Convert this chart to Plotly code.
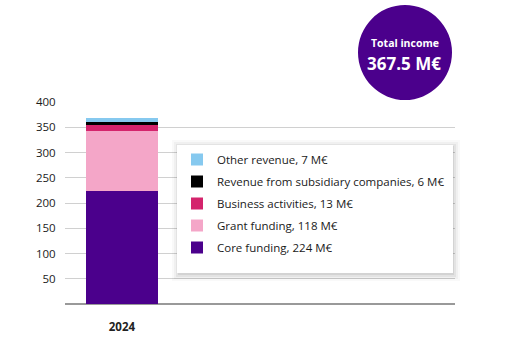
import plotly.graph_objects as go

years = ["2024"]
series_names = ["Core funding", "Grant funding", "Business activities",
                "Revenue from subsidiary companies", "Other revenue"]
series_values = [224, 118, 13, 6, 7]
series_colors = ["#4b008c", "#f4a6c8", "#d4246c", "#000000", "#86c9ef"]
y_ticks = [50, 100, 150, 200, 250, 300, 350, 400]
total_label = "367.5 M€"

W, H = 529, 353
L, R, T, B = 65, 74, 102, 49
pw, ph = W - L - R, H - T - B

def px_x(x):
    return (x - L) / pw

def px_y(y):
    return (H - B - y) / ph

fig = go.Figure()
n = len(series_names)
for i, (name, val, col) in enumerate(zip(series_names, series_values, series_colors)):
    fig.add_trace(go.Bar(
        x=years, y=[val], name=f"{name}, {val} M€",
        marker=dict(color=col, line=dict(width=0)),
        width=1.0, legendgroup=name, legendrank=1000 + (n - i),
    ))

# legend box with soft shadow
for off, a in [(7, 0.025), (5, 0.035), (3, 0.05), (1, 0.065)]:
    fig.add_shape(type="rect", xref="paper", yref="paper",
                  x0=px_x(177 - off + 2), x1=px_x(453 + off),
                  y0=px_y(273 + off + 1), y1=px_y(145 - off + 2),
                  line=dict(width=0), fillcolor=f"rgba(0,0,0,{a})", layer="above")
fig.add_shape(type="rect", xref="paper", yref="paper",
              x0=px_x(177), x1=px_x(453), y0=px_y(273), y1=px_y(145),
              line=dict(width=0), fillcolor="white", layer="above")

# total circle
fig.add_shape(type="circle", xref="paper", yref="paper",
              x0=px_x(358), x1=px_x(452), y0=px_y(100), y1=px_y(5),
              line=dict(width=0), fillcolor="#4b008c")
fig.add_annotation(xref="paper", yref="paper", x=px_x(405), y=px_y(43),
                   xanchor="center", yanchor="middle",
                   text="<b>Total income</b>", showarrow=False,
                   font=dict(family="Open Sans", size=10.5, color="white"))
fig.add_annotation(xref="paper", yref="paper", x=px_x(404), y=px_y(63),
                   xanchor="center", yanchor="middle",
                   text=f"<b>{total_label}</b>", showarrow=False,
                   font=dict(family="Open Sans", size=17, color="white"))

fig.update_layout(
    width=W, height=H, margin=dict(l=L, r=R, t=T, b=B),
    barmode="stack", plot_bgcolor="white", paper_bgcolor="white",
    font=dict(family="Open Sans", size=11, color="#222222"),
    legend=dict(x=px_x(177), y=px_y(145), xanchor="left", yanchor="top",
                bgcolor="rgba(0,0,0,0)", traceorder="grouped",
                tracegroupgap=3, font=dict(size=11.5, color="#1a1a1a"),
                itemwidth=30),
    xaxis=dict(type="category", range=[-0.79, 4.625], showgrid=False,
               showline=False, ticks="outside", ticklen=12, tickcolor="rgba(0,0,0,0)",
               tickvals=years, ticktext=[f"<b>{y}</b>" for y in years],
               tickfont=dict(size=11.5, color="#222222")),
    yaxis=dict(range=[0, 400], tickvals=y_ticks, showgrid=True,
               gridcolor="#d0d0d0", gridwidth=1, zeroline=True,
               zerolinecolor="#999999", zerolinewidth=2, showline=False,
               ticks="outside", ticklen=6, tickcolor="rgba(0,0,0,0)",
               tickfont=dict(size=11.5, color="#1a1a1a")),
)
fig.write_html("out.html")
